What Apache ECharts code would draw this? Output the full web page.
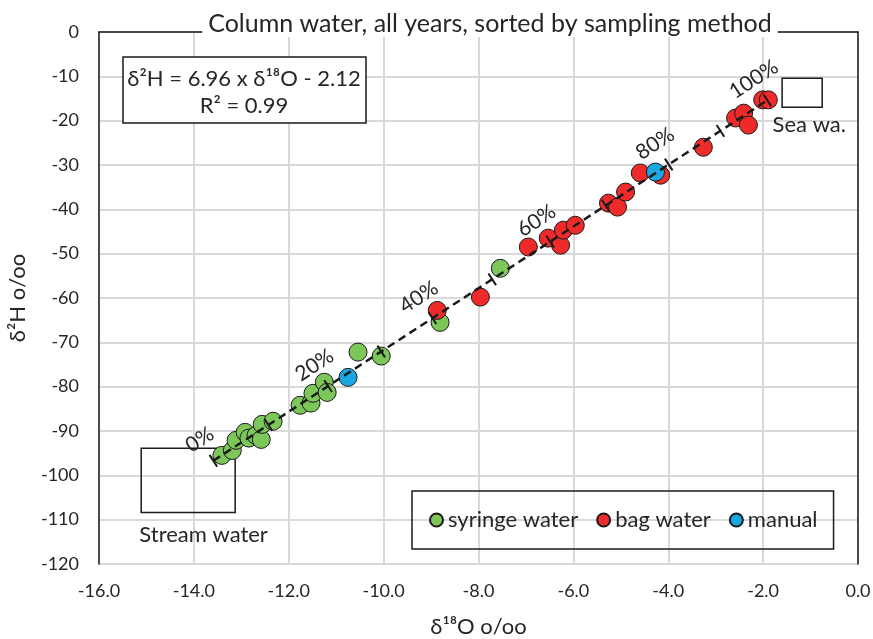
<!DOCTYPE html>
<html>
<head>
<meta charset="utf-8">
<script src="https://cdn.jsdelivr.net/npm/echarts@6/dist/echarts.min.js"></script>
<style>
  html, body { margin: 0; padding: 0; background: #fff; }
  #chart { width: 873px; height: 639px; }
</style>
</head>
<body>
<div id="chart"></div>
<script>
// Isotope values (δ18O, δ2H) of column water by sampling method
const syringeX = [-13.41, -13.19, -13.11, -12.92, -12.84, -12.69, -12.58, -12.56, -12.33,
                  -11.76, -11.53, -11.49, -11.25, -11.19, -10.54, -10.05, -8.81, -7.54];
const syringeY = [-95.5, -94.4, -92.1, -90.3, -91.6, -91.0, -91.9, -88.5, -87.8,
                  -84.2, -83.7, -81.5, -79.0, -81.3, -72.2, -73.1, -65.5, -53.3];

const bagX = [-8.87, -7.96, -6.95, -6.53, -6.27, -6.21, -5.96, -5.26, -5.07, -4.90,
              -4.59, -4.16, -3.26, -2.58, -2.41, -2.31, -2.01, -1.89];
const bagY = [-62.8, -59.8, -48.5, -46.5, -48.1, -44.7, -43.6, -38.6, -39.5, -36.1,
              -31.8, -32.3, -26.0, -19.4, -18.3, -21.0, -15.3, -15.3];

const manualX = [-10.75, -4.27];
const manualY = [-77.9, -31.6];

// Regression line δ2H = 6.96 x δ18O - 2.12, drawn over the sampled range
const slope = 6.96;
const intercept = -2.12;
const trendRange = [-13.59, -1.91];

// Mixing-fraction marks along the regression line (every 10 %)
const mixTickX = [-13.59, -12.43, -11.17, -10.05, -8.97, -7.71, -6.49, -5.32, -3.99, -2.90, -1.91];
const mixLabels = ['0%', '', '20%', '', '40%', '', '60%', '', '80%', '', '100%'];

// End-member boxes: [xMin, yTop, xMax, yBottom, labelX, labelY] and their names
const endMembers = [
  [-15.11, -93.9, -13.13, -108.4, -15.15, -113.5],
  [-1.60, -10.45, -0.755, -17.0, -1.80, -21.0]
];
const endMemberNames = ['Stream water', 'Sea wa.'];

const xTicks = { min: -16, max: 0, interval: 2 };
const yTicks = { min: -120, max: 0, interval: 10 };

const FONT = 'Lato, "Open Sans", sans-serif';
const TXT = '#262626';

const pairs = (xs, ys) => xs.map((x, i) => [x, ys[i]]);
const lineY = x => slope * x + intercept;

const chart = echarts.init(document.getElementById('chart'));

const pointStyle = c => ({ color: c, borderColor: '#1a1a1a', borderWidth: 1, opacity: 1 });

chart.setOption({
  animation: false,
  textStyle: { fontFamily: FONT },
  title: {
    text: 'Column water, all years, sorted by sampling method',
    left: 484, top: 10, textAlign: 'center',
    backgroundColor: '#fff', padding: [1, 6],
    textStyle: { fontFamily: FONT, fontSize: 25, fontWeight: 'normal', color: TXT }
  },
  grid: { left: 99, right: 15, top: 32, bottom: 75, outerBoundsMode: 'none' },
  legend: {
    data: ['syringe water', 'bag water', 'manual'],
    left: 412, top: 491,
    padding: [18, 16, 18, 17],
    borderColor: '#1a1a1a', borderWidth: 1.5,
    itemWidth: 13, itemHeight: 13, itemGap: 18,
    icon: 'circle',
    textStyle: { fontFamily: FONT, fontSize: 22, color: TXT }
  },
  xAxis: [{
    type: 'value', min: xTicks.min, max: xTicks.max, interval: xTicks.interval,
    position: 'bottom',
    name: 'δ¹⁸O o/oo', nameLocation: 'middle', nameGap: 52,
    nameTextStyle: { fontFamily: FONT, fontSize: 22, color: TXT },
    axisLine: { show: false },
    axisTick: { show: false },
    axisLabel: { fontFamily: FONT, fontSize: 18, color: TXT, margin: 18,
                 formatter: v => v.toFixed(1) },
    splitLine: { show: true, lineStyle: { color: '#d9d9d9', width: 2 } }
  }, {
    type: 'value', min: xTicks.min, max: xTicks.max, interval: xTicks.interval,
    position: 'top',
    axisLine: { show: true, onZero: false, lineStyle: { color: '#1a1a1a', width: 1.5 } },
    axisTick: { show: false }, axisLabel: { show: false }, splitLine: { show: false }
  }],
  yAxis: [{
    type: 'value', min: yTicks.min, max: yTicks.max, interval: yTicks.interval,
    position: 'left',
    name: 'δ²H o/oo', nameLocation: 'middle', nameGap: 70,
    nameTextStyle: { fontFamily: FONT, fontSize: 22, color: TXT },
    axisLine: { show: true, onZero: false, lineStyle: { color: '#1a1a1a', width: 1.5 } },
    axisTick: { show: false },
    axisLabel: { fontFamily: FONT, fontSize: 18, color: TXT, margin: 20 },
    splitLine: { show: true, lineStyle: { color: '#d9d9d9', width: 2 } }
  }, {
    type: 'value', min: yTicks.min, max: yTicks.max, interval: yTicks.interval,
    position: 'right',
    axisLine: { show: true, onZero: false, lineStyle: { color: '#1a1a1a', width: 1.5 } },
    axisTick: { show: false }, axisLabel: { show: false }, splitLine: { show: false }
  }],
  graphic: [{
    type: 'rect', z: 100,
    shape: { x: 123, y: 57, width: 243, height: 66 },
    style: { fill: '#fff', stroke: '#1a1a1a', lineWidth: 1.5 }
  }, {
    type: 'text', z: 101, x: 244, y: 79,
    style: { text: 'δ²H = 6.96 x δ¹⁸O - 2.12', fontFamily: FONT, fontSize: 22,
             fill: TXT, align: 'center', verticalAlign: 'middle' }
  }, {
    type: 'text', z: 101, x: 244, y: 106,
    style: { text: 'R² = 0.99', fontFamily: FONT, fontSize: 22,
             fill: TXT, align: 'center', verticalAlign: 'middle' }
  }],
  series: [{
    name: 'syringe water', type: 'scatter', symbolSize: 18, z: 3,
    itemStyle: pointStyle('#7dc65a'),
    data: pairs(syringeX, syringeY)
  }, {
    name: 'bag water', type: 'scatter', symbolSize: 18, z: 3,
    itemStyle: pointStyle('#ee2a2a'),
    data: pairs(bagX, bagY)
  }, {
    name: 'manual', type: 'scatter', symbolSize: 18, z: 3,
    itemStyle: pointStyle('#1ba8e2'),
    data: pairs(manualX, manualY)
  }, {
    name: 'trend', type: 'line', z: 4, symbol: 'none', silent: true,
    lineStyle: { color: '#1a1a1a', width: 2.5, type: [8, 5] },
    data: trendRange.map(x => [x, lineY(x)])
  }, {
    name: 'mix', type: 'custom', z: 5, silent: true,
    data: mixTickX.map((x, i) => [x, lineY(x), i]),
    renderItem: (params, api) => {
      const x = api.value(0), y = api.value(1), i = api.value(2);
      const p = api.coord([x, y]);
      const q = api.coord([x + 1, y + slope]);
      let dx = q[0] - p[0], dy = q[1] - p[1];
      const len = Math.hypot(dx, dy);
      dx /= len; dy /= len;
      const nx = dy, ny = -dx; // perpendicular pointing up-left
      const children = [{
        type: 'line',
        shape: { x1: p[0] - nx * 7, y1: p[1] - ny * 7, x2: p[0] + nx * 7, y2: p[1] + ny * 7 },
        style: { stroke: '#1a1a1a', lineWidth: 2 }
      }];
      const label = mixLabels[i];
      if (label) {
        children.push({
          type: 'text',
          x: p[0] + nx * 25, y: p[1] + ny * 25,
          rotation: Math.atan2(-dy, dx),
          style: { text: label, fontFamily: FONT, fontSize: 21, fill: TXT,
                   align: 'center', verticalAlign: 'middle' }
        });
      }
      return { type: 'group', children };
    }
  }, {
    name: 'end members', type: 'custom', z: 2, silent: true,
    data: endMembers,
    renderItem: (params, api) => {
      const a = api.coord([api.value(0), api.value(1)]);
      const b = api.coord([api.value(2), api.value(3)]);
      const t = api.coord([api.value(4), api.value(5)]);
      return {
        type: 'group',
        children: [{
          type: 'rect',
          shape: { x: a[0], y: a[1], width: b[0] - a[0], height: b[1] - a[1] },
          style: { fill: 'rgba(255,255,255,0)', stroke: '#1a1a1a', lineWidth: 1.5 }
        }, {
          type: 'text', x: t[0], y: t[1],
          style: { text: endMemberNames[params.dataIndex], fontFamily: FONT, fontSize: 22,
                   fill: TXT, align: 'left', verticalAlign: 'middle' }
        }]
      };
    }
  }]
});
</script>
</body>
</html>
